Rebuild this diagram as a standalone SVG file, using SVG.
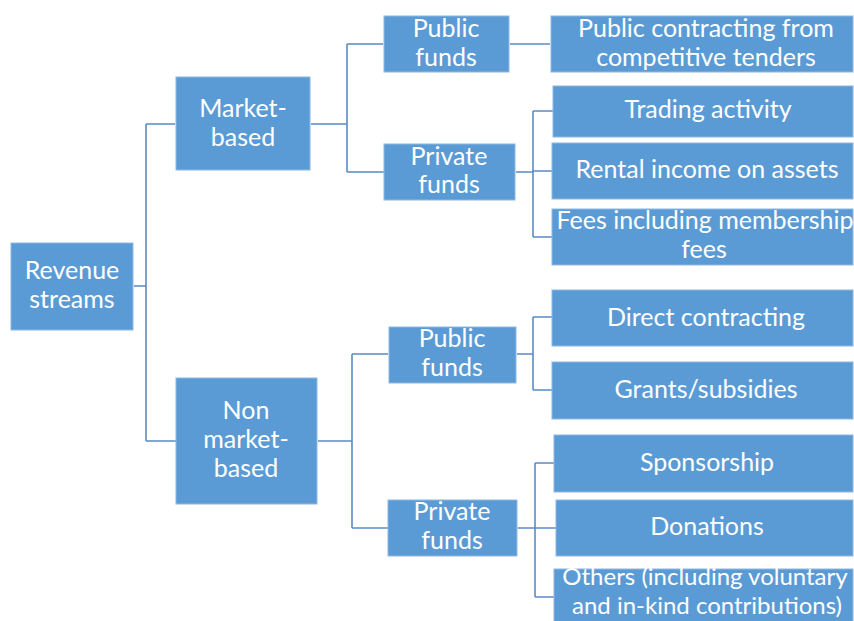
<svg xmlns="http://www.w3.org/2000/svg" width="854" height="621" viewBox="0 0 854 621">
<style>
.box{fill:#5B9BD5;stroke:#8EB8E2;stroke-width:1}
.t{font-family:Lato,"Liberation Sans",sans-serif;font-size:25px;fill:#ffffff;text-anchor:middle}
.s{font-size:24px}
.c{fill:none;stroke:#5A8BC4;stroke-width:1.6}
</style>
<rect width="854" height="621" fill="#ffffff"/>
<g id="connectors">
<path class="c" d="M134 286H146M146 124V441M146 124H175M146 441H176"/>
<path class="c" d="M311 124H347M347 44V172M347 44H383M347 172H384"/>
<path class="c" d="M318 441H352M352 354V528M352 354H388M352 528H388"/>
<path class="c" d="M510 44H550"/>
<path class="c" d="M516 172H533M533 111V237M533 111H553M533 171H552M533 237H552"/>
<path class="c" d="M517 354H533M533 317V390M533 317H552M533 390H552"/>
<path class="c" d="M518 528H535M535 463V597M535 463H554M535 528H556M535 597H554"/>
</g>
<g id="revenue"><rect class="box" x="11" y="243" width="122" height="87"/><text class="t" x="72" y="279">Revenue</text><text class="t" x="72" y="308">streams</text></g>
<g id="market"><rect class="box" x="176" y="77" width="134" height="93"/><text class="t" x="243" y="117">Market-</text><text class="t" x="243" y="146">based</text></g>
<g id="nonmarket"><rect class="box" x="176" y="378" width="141" height="126"/><text class="t" x="246" y="419">Non</text><text class="t" x="246" y="448">market-</text><text class="t" x="246" y="477">based</text></g>
<g id="mpublic"><rect class="box" x="384" y="16" width="125" height="56"/><text class="t" x="446" y="37">Public</text><text class="t" x="446" y="66">funds</text></g>
<g id="mprivate"><rect class="box" x="384" y="144" width="131" height="56"/><text class="t" x="449" y="165">Private</text><text class="t" x="449" y="193">funds</text></g>
<g id="npublic"><rect class="box" x="389" y="327" width="127" height="56"/><text class="t" x="452" y="347">Public</text><text class="t" x="452" y="376">funds</text></g>
<g id="nprivate"><rect class="box" x="388" y="500" width="129" height="56"/><text class="t" x="452" y="520">Private</text><text class="t" x="452" y="549">funds</text></g>
<g id="tenders"><rect class="box" x="551" y="16" width="302" height="56"/><text class="t" x="706" y="37">Public contracting from</text><text class="t" x="706" y="66">competitive tenders</text></g>
<g id="trading"><rect class="box" x="553" y="86" width="300" height="51"/><text class="t" x="708" y="118">Trading activity</text></g>
<g id="rental"><rect class="box" x="552" y="143" width="301" height="56"/><text class="t" x="707" y="178">Rental income on assets</text></g>
<g id="fees"><rect class="box" x="552" y="209" width="301" height="56"/><text class="t" x="705" y="229">Fees including membership</text><text class="t" x="704" y="258">fees</text></g>
<g id="direct"><rect class="box" x="552" y="290" width="301" height="56"/><text class="t" x="706" y="326">Direct contracting</text></g>
<g id="grants"><rect class="box" x="552" y="362" width="301" height="57"/><text class="t" x="706" y="398">Grants/subsidies</text></g>
<g id="sponsorship"><rect class="box" x="554" y="435" width="299" height="57"/><text class="t" x="707" y="471">Sponsorship</text></g>
<g id="donations"><rect class="box" x="556" y="500" width="297" height="56"/><text class="t" x="707" y="535">Donations</text></g>
<g id="others"><rect class="box" x="554" y="569" width="299" height="60"/><text class="t s" x="705" y="585">Others (including voluntary</text><text class="t s" x="707" y="614">and in-kind contributions)</text></g>
</svg>
